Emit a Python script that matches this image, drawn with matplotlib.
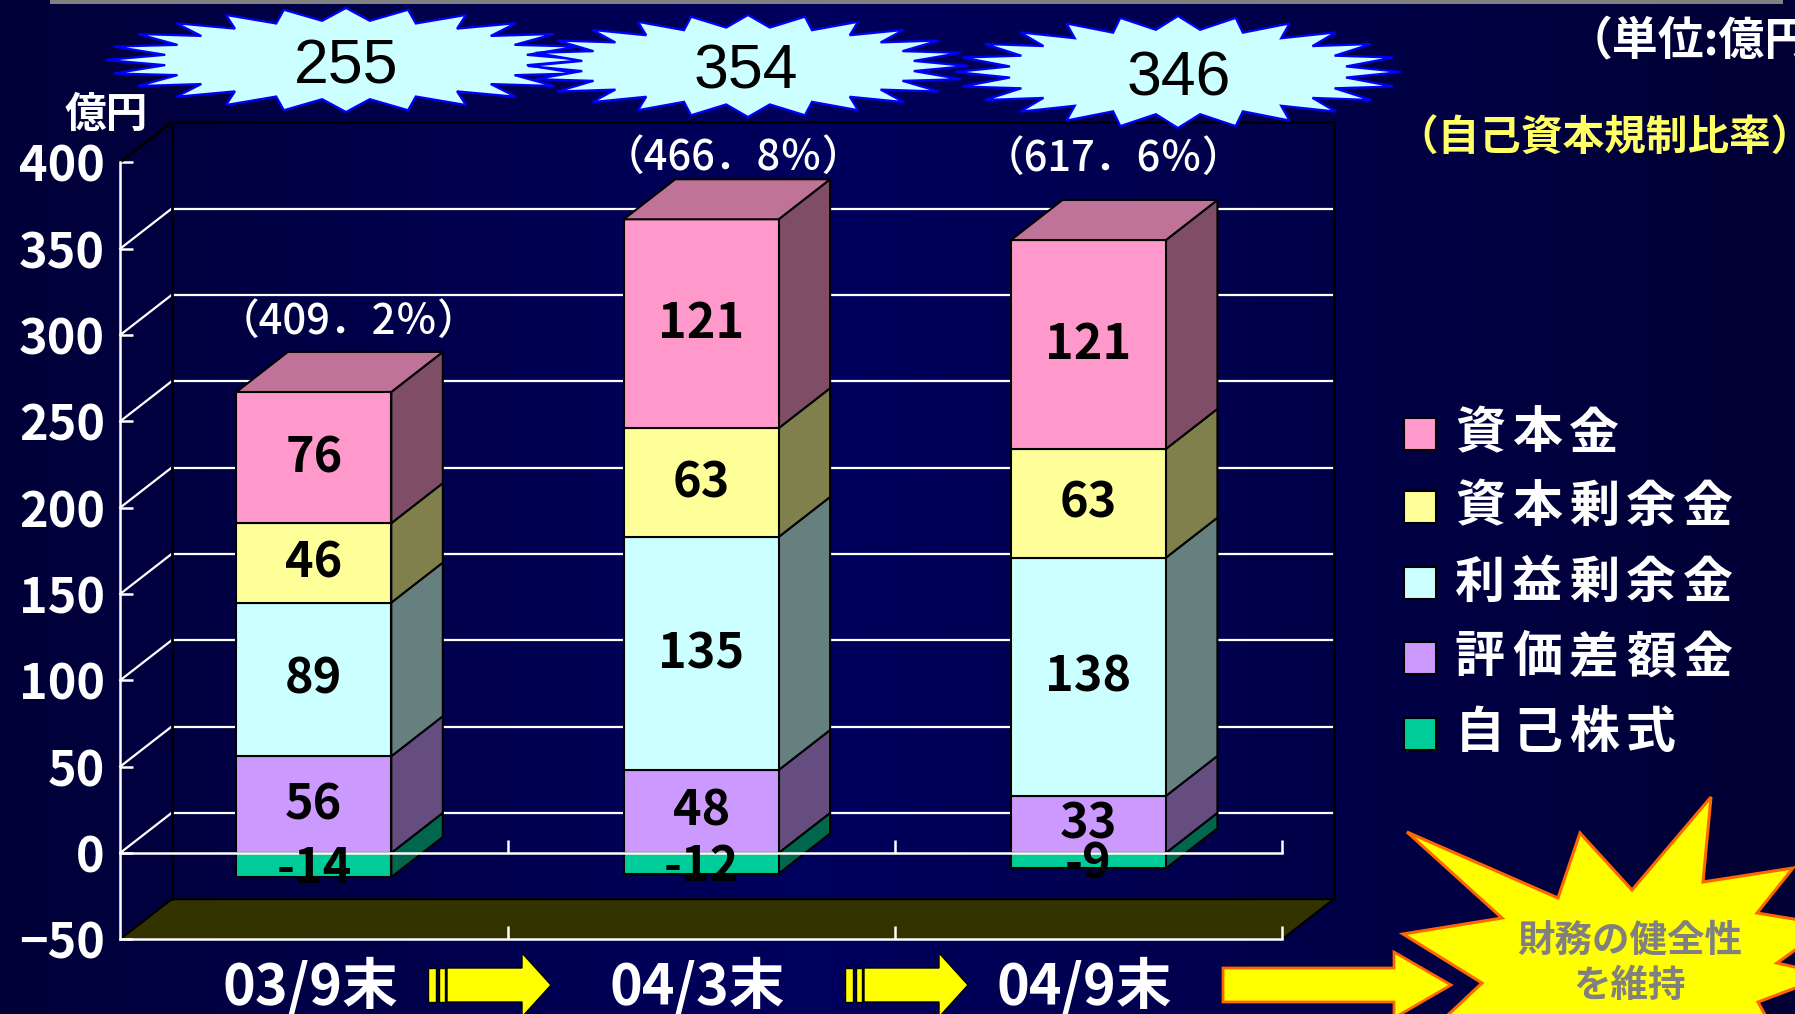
import numpy as np
import matplotlib
matplotlib.use('Agg')
import matplotlib.pyplot as plt
from matplotlib.patches import Polygon, Rectangle
from matplotlib import transforms

plt.rcParams['font.family'] = ['Noto Sans CJK JP', 'DejaVu Sans']
plt.rcParams['axes.unicode_minus'] = False

# data (億円)
periods = ['03/9末', '04/3末', '04/9末']
series_names = ['資本金', '資本剰余金', '利益剰余金', '評価差額金', '自己株式']
capital = [76, 121, 121]
capital_surplus = [46, 63, 63]
retained_earnings = [89, 135, 138]
valuation_diff = [56, 48, 33]
treasury_stock = [-14, -12, -9]
totals = [255, 354, 346]
capital_ratios = ['（409．2％）', '（466．8％）', '（617．6％）']

colors = {'資本金': '#FF99CC', '資本剰余金': '#FFFF99', '利益剰余金': '#CCFFFF',
          '評価差額金': '#CC99FF', '自己株式': '#00CC99'}

W, H = 1795, 1014
fig = plt.figure(figsize=(W / 100, H / 100), dpi=100)

# background gradient
bg = fig.add_axes([0, 0, 1, 1])
bg.set_axis_off()
stops = np.array([[0x00, 0x00, 0x38], [0x00, 0x00, 0x5E], [0x00, 0x00, 0x34]]) / 255
xs = np.linspace(0, 1, 400)
grad = np.stack([np.interp(xs, [0, 0.45, 1], stops[:, c]) for c in range(3)], axis=-1)
bg.imshow(grad[None, :, :], extent=(0, 1, 0, 1), aspect='auto')
bg.set_xlim(0, 1)
bg.set_ylim(0, 1)

# pixel layout helper (origin top-left)
pix = transforms.Affine2D().scale(1 / W, -1 / H).translate(0, 1) + fig.transFigure

# main chart axes, mapped so that category 0..3 and value -50..400 land on the plot box
X0, UX = 120.2, 387.3
Y0, UY = 852.9, 1.7264
ax = fig.add_axes([0, 0, 1, 1])
ax.patch.set_alpha(0)
ax.set_xlim(-X0 / UX, (W - X0) / UX)
ax.set_ylim(-(H - Y0) / UY, Y0 / UY)

DX, DY = 0.133, 23.2          # depth offset of the back wall
ymin, ymax, step = -50, 400, 50
levels = np.arange(ymin, ymax + 1, step)

# floor
floor = Polygon([(0, ymin), (3, ymin), (3 + DX, ymin + DY), (DX, ymin + DY)],
                closed=True, facecolor='#333300', edgecolor='black', lw=1.5, zorder=1)
ax.add_patch(floor)

# back wall and side wall gridlines
for v in levels[1:-1]:
    ax.plot([DX, 3 + DX], [v + DY, v + DY], color='white', lw=1.6, zorder=1.5)
    ax.plot([0, DX], [v, v + DY], color='white', lw=1.6, zorder=1.5)
ax.plot([DX, DX], [ymin + DY, ymax + DY], color='black', lw=2, zorder=1.6)
ax.plot([3 + DX, 3 + DX], [ymin + DY, ymax + DY], color='black', lw=2, zorder=1.6)
ax.plot([DX, 3 + DX], [ymax + DY, ymax + DY], color='black', lw=2, zorder=1.6)
ax.plot([0, DX], [ymax, ymax + DY], color='black', lw=2, zorder=1.6)


def shade(hex_color, k):
    rgb = np.array(matplotlib.colors.to_rgb(hex_color))
    return tuple(rgb * k)


def box(xl, w, y0, y1, color, top):
    front = Rectangle((xl, y0), w, y1 - y0, facecolor=color, edgecolor='black', lw=1.5, zorder=2)
    side = Polygon([(xl + w, y0), (xl + w + DX, y0 + DY), (xl + w + DX, y1 + DY), (xl + w, y1)],
                   closed=True, facecolor=shade(color, 0.5), edgecolor='black', lw=1.5, zorder=2)
    ax.add_patch(side)
    ax.add_patch(front)
    if top:
        lid = Polygon([(xl, y1), (xl + DX, y1 + DY), (xl + w + DX, y1 + DY), (xl + w, y1)],
                      closed=True, facecolor=shade(color, 0.75), edgecolor='black', lw=1.5, zorder=2)
        ax.add_patch(lid)


bar_w = 0.4
stack = [('評価差額金', valuation_diff), ('利益剰余金', retained_earnings),
         ('資本剰余金', capital_surplus), ('資本金', capital)]
for i in range(len(periods)):
    xc = i + 0.5
    xl = xc - bar_w / 2
    neg = treasury_stock[i]
    box(xl, bar_w, neg, 0, colors['自己株式'], False)
    base = 0
    for k, (name, vals) in enumerate(stack):
        box(xl, bar_w, base, base + vals[i], colors[name], k == len(stack) - 1)
        ax.text(xc, base + vals[i] / 2, str(vals[i]), ha='center', va='center',
                fontsize=35, fontweight='bold', color='black', zorder=6)
        base += vals[i]
    ax.text(xc, neg / 2 - 2, str(neg), ha='center', va='center',
            fontsize=35, fontweight='bold', color='black', zorder=6)
    ax.text(xc - 0.01, -77.5, periods[i], ha='center', va='center',
            fontsize=40, fontweight='bold', color='white')

# front zero line drawn over the bars
ax.plot([0, 3], [0, 0], color='white', lw=1.8, zorder=4)
ax.vlines([1, 2, 3], 0, 7.5, color='white', lw=1.8, zorder=4)

# value axis on the front left edge
for s in ['top', 'right']:
    ax.spines[s].set_visible(False)
ax.spines['left'].set_position(('data', 0))
ax.spines['left'].set_bounds(ymin, ymax)
ax.spines['bottom'].set_position(('data', ymin))
ax.spines['bottom'].set_bounds(0, 3)
for s in ['left', 'bottom']:
    ax.spines[s].set_color('white')
    ax.spines[s].set_linewidth(1.8)
ax.set_yticks(levels)
ax.set_yticklabels([str(v).replace('-', '\u2212') for v in levels])
ax.set_xticks([1, 2, 3])
ax.set_xticklabels([])
ax.tick_params(axis='y', direction='in', length=9, width=1.8, color='white',
               labelcolor='white', labelsize=35, pad=11)
ax.tick_params(axis='x', direction='in', length=9.5, width=1.8, color='white')
for lbl in ax.get_yticklabels():
    lbl.set_fontweight('bold')

ax.text(106, 115, '億円', transform=pix, ha='center', va='center',
        fontsize=30, fontweight='bold', color='white')


# starbursts with the totals
def burst(cx, cy, rx, ry, n=24, inner=0.76):
    t = np.linspace(0, 2 * np.pi, 2 * n, endpoint=False) + np.pi / 2
    r = np.where(np.arange(2 * n) % 2 == 0, 1.0, inner)
    return np.column_stack([cx + rx * r * np.cos(t), cy - ry * r * np.sin(t)])


burst_geom = [(346, 60, 240, 52), (748, 66, 220, 51), (1178, 72, 223, 56)]
text_pos = [(346, 67), (746, 72), (1179, 79)]
for (cx, cy, rx, ry), (tx, ty), total in zip(burst_geom, text_pos, totals):
    ax.add_patch(Polygon(burst(cx, cy, rx, ry), closed=True, transform=pix,
                         facecolor='#CCFFFF', edgecolor='#0000FF', lw=1.6, zorder=7))
    ax.text(tx, ty, str(total), transform=pix, ha='center', va='center',
            fontsize=45, family='Liberation Sans', color='black', zorder=8)

ratio_pos = [(349, 321), (733, 157), (1113, 158)]
for (tx, ty), txt in zip(ratio_pos, capital_ratios):
    ax.text(tx, ty, txt, transform=pix, ha='center', va='center',
            fontsize=30, fontweight='medium', color='white', zorder=8)

ax.text(1567, 41, '（単位:億円）', transform=pix, ha='left', va='center',
        fontsize=33, fontweight='bold', color='white', zorder=8)
ax.text(1604, 139, '（自己資本規制比率）', transform=pix, ha='center', va='center',
        fontsize=30, fontweight='bold', color='#FFFF66', zorder=8)

# legend with spaced characters
legend_rows = [434, 507, 583, 658, 734]
for name, yy in zip(series_names, legend_rows):
    ax.add_patch(Rectangle((1404, yy - 16), 32, 32, transform=pix, facecolor=colors[name],
                           edgecolor='black', lw=1.5, zorder=8))
    for j, ch in enumerate(name):
        ax.text(1480 + 57 * j, yy, ch, transform=pix, ha='center', va='center',
                fontsize=36, fontweight='bold', color='white', zorder=8)


# arrows along the bottom
def striped_arrow(x):
    for x0, w in [(x, 8), (x + 11, 6)]:
        ax.add_patch(Rectangle((x0, 968), w, 34, transform=pix, facecolor='#FFFF00',
                               edgecolor='black', lw=1, zorder=8))
    pts = [(x + 19, 968), (x + 94, 968), (x + 94, 953), (x + 123, 985),
           (x + 94, 1017), (x + 94, 1002), (x + 19, 1002)]
    ax.add_patch(Polygon(pts, closed=True, transform=pix, facecolor='#FFFF00',
                         edgecolor='black', lw=1, zorder=8))


striped_arrow(428)
striped_arrow(845)
ax.add_patch(Polygon([(1223, 968), (1394, 968), (1394, 952), (1451, 985), (1394, 1018),
                      (1394, 1002), (1223, 1002)], closed=True, transform=pix,
                     facecolor='#FFFF00', edgecolor='#FF6600', lw=2, zorder=8))

explosion = [(1407, 832), (1558, 898), (1580, 833), (1632, 890), (1711, 797), (1703, 882),
             (1793, 868), (1757, 913), (1830, 925), (1777, 963), (1830, 975), (1758, 1002),
             (1790, 1060), (1400, 1060), (1482, 983), (1403, 934), (1502, 918)]
ax.add_patch(Polygon(explosion, closed=True, transform=pix, facecolor='#FFFF00',
                     edgecolor='#FF6600', lw=2.2, zorder=8))
ax.text(1630, 940, '財務の健全性', transform=pix, ha='center', va='center',
        fontsize=27, fontweight='bold', color='#808080', zorder=9)
ax.text(1630, 985, 'を維持', transform=pix, ha='center', va='center',
        fontsize=27, fontweight='bold', color='#808080', zorder=9)

# thin grey rule along the top edge
ax.add_patch(Rectangle((50, 0), 1733, 4, transform=pix, facecolor='#808080',
                       edgecolor='none', zorder=9))

fig.savefig('out.png', dpi=100)
